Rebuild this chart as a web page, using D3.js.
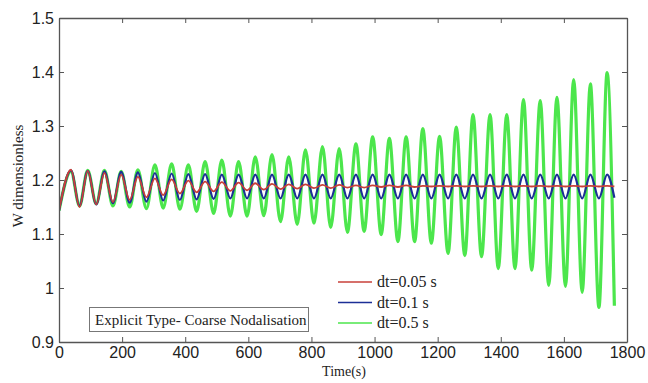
<!DOCTYPE html>
<html>
<head>
<meta charset="utf-8">
<script src="https://cdn.jsdelivr.net/npm/d3@7"></script>
<style>
  body { margin: 0; background: #fff; }
  svg { display: block; }
</style>
</head>
<body>
<div id="chart"></div>
<script>
// times (s) of each oscillation peak / trough
const peakTimes   = [38, 91, 144, 197, 250, 304, 357, 410, 463, 516, 569, 622, 675, 728, 781, 835, 888,
                     941, 994, 1047, 1100, 1153, 1206, 1259, 1312, 1366, 1419, 1472, 1525, 1578, 1631, 1684, 1737];
const troughTimes = [65, 118, 171, 224, 277, 330, 383, 436, 490, 543, 596, 649, 702, 755, 808, 861, 914,
                     967, 1021, 1074, 1127, 1180, 1233, 1286, 1339, 1392, 1445, 1498, 1552, 1605, 1658, 1711];
const startTime = 0, endTime = 1760;

// dt = 0.5 s (green)
const greenPeaks   = [1.216, 1.218, 1.218, 1.216, 1.219, 1.228, 1.230, 1.228, 1.234, 1.237, 1.234, 1.243, 1.247, 1.243,
                      1.256, 1.262, 1.258, 1.267, 1.280, 1.277, 1.280, 1.295, 1.281, 1.298, 1.321, 1.321, 1.321,
                      1.349, 1.347, 1.353, 1.386, 1.378, 1.399];
const greenTroughs = [1.152, 1.156, 1.152, 1.150, 1.147, 1.148, 1.146, 1.142, 1.138, 1.133, 1.133, 1.134, 1.123,
                      1.118, 1.120, 1.112, 1.103, 1.105, 1.099, 1.086, 1.086, 1.083, 1.064, 1.060, 1.058, 1.036,
                      1.036, 1.033, 1.005, 1.003, 0.992, 0.964];
const greenStart = 1.143, greenEnd = 0.967;

// dt = 0.1 s (blue)
const bluePeaks   = [1.218, 1.217, 1.216, 1.215, 1.214, 1.213, 1.212, 1.211, 1.211, 1.210, 1.210, 1.210, 1.210,
                     1.210, 1.210, 1.210, 1.210, 1.210, 1.210, 1.210, 1.210, 1.210, 1.210, 1.210, 1.210, 1.210,
                     1.210, 1.210, 1.210, 1.210, 1.210, 1.210, 1.210];
const blueTroughs = [1.152, 1.155, 1.157, 1.158, 1.160, 1.162, 1.163, 1.164, 1.165, 1.166, 1.166, 1.166, 1.166,
                     1.166, 1.166, 1.166, 1.166, 1.166, 1.166, 1.166, 1.166, 1.166, 1.166, 1.166, 1.166, 1.166,
                     1.166, 1.166, 1.166, 1.166, 1.166, 1.166];
const blueStart = 1.143, blueEnd = 1.167;

// dt = 0.05 s (red)
const redPeaks   = [1.219, 1.217, 1.213, 1.210, 1.206, 1.203, 1.201, 1.199, 1.197, 1.196, 1.195, 1.194, 1.193,
                    1.192, 1.192, 1.191, 1.191, 1.190, 1.190, 1.190, 1.190, 1.189, 1.189, 1.189, 1.189, 1.189,
                    1.189, 1.189, 1.189, 1.189, 1.189, 1.189, 1.189];
const redTroughs = [1.150, 1.155, 1.159, 1.163, 1.168, 1.172, 1.175, 1.177, 1.179, 1.180, 1.181, 1.182, 1.183,
                    1.184, 1.185, 1.185, 1.186, 1.186, 1.187, 1.187, 1.187, 1.188, 1.188, 1.188, 1.188, 1.188,
                    1.188, 1.188, 1.188, 1.188, 1.188, 1.188];
const redStart = 1.143, redEnd = 1.188;

const xTicks = [0, 200, 400, 600, 800, 1000, 1200, 1400, 1600, 1800];
const yTicks = [0.9, 1, 1.1, 1.2, 1.3, 1.4, 1.5];
const legendLabels = ["dt=0.05 s", "dt=0.1 s", "dt=0.5 s"];
const noteText = "Explicit Type- Coarse Nodalisation";

const width = 648, height = 383;
const margin = { top: 18, right: 21, bottom: 41, left: 59 };

// interleave start, peaks, troughs, end into one series
function buildSeries(start, peaks, troughs, end) {
  const pts = [[startTime, start]];
  peaks.forEach((p, i) => {
    pts.push([peakTimes[i], p]);
    if (i < troughs.length) pts.push([troughTimes[i], troughs[i]]);
  });
  pts.push([endTime, end]);
  return pts;
}

const series = [
  { name: "green", color: "#4ce64c", w: 3.2, data: buildSeries(greenStart, greenPeaks, greenTroughs, greenEnd) },
  { name: "blue",  color: "#1c2f96", w: 2.2, data: buildSeries(blueStart, bluePeaks, blueTroughs, blueEnd) },
  { name: "red",   color: "#c8403a", w: 1.8, data: buildSeries(redStart, redPeaks, redTroughs, redEnd) }
];

const svg = d3.select("#chart").append("svg")
  .attr("width", width)
  .attr("height", height);

const x = d3.scaleLinear().domain([0, 1800]).range([margin.left, width - margin.right]);
const y = d3.scaleLinear().domain([0.9, 1.5]).range([height - margin.bottom, margin.top]);

svg.append("defs").append("clipPath").attr("id", "clip")
  .append("rect")
  .attr("x", margin.left).attr("y", margin.top)
  .attr("width", x(1800) - x(0)).attr("height", y(0.9) - y(1.5));

const line = d3.line()
  .x(d => x(d[0]))
  .y(d => y(d[1]))
  .curve(d3.curveMonotoneX);

svg.append("g").attr("clip-path", "url(#clip)")
  .selectAll("path")
  .data(series)
  .enter()
  .append("path")
  .attr("d", d => line(d.data))
  .attr("fill", "none")
  .attr("stroke", d => d.color)
  .attr("stroke-width", d => d.w)
  .attr("stroke-linejoin", "round");

// axes, MATLAB style: box with inward ticks on all sides
const axisColor = "#555";
const tickLen = 5;
const fmt = d => d3.format("~g")(d);

const xBottom = svg.append("g")
  .attr("transform", `translate(0,${y(0.9)})`)
  .call(d3.axisBottom(x).tickValues(xTicks).tickSizeInner(-tickLen).tickSizeOuter(0).tickPadding(5).tickFormat(fmt));
const xTop = svg.append("g")
  .attr("transform", `translate(0,${y(1.5)})`)
  .call(d3.axisTop(x).tickValues(xTicks).tickSizeInner(-tickLen).tickSizeOuter(0).tickFormat(""));
const yLeft = svg.append("g")
  .attr("transform", `translate(${x(0)},0)`)
  .call(d3.axisLeft(y).tickValues(yTicks).tickSizeInner(-tickLen).tickSizeOuter(0).tickPadding(5).tickFormat(fmt));
const yRight = svg.append("g")
  .attr("transform", `translate(${x(1800)},0)`)
  .call(d3.axisRight(y).tickValues(yTicks).tickSizeInner(-tickLen).tickSizeOuter(0).tickFormat(""));

[xBottom, xTop, yLeft, yRight].forEach(g => {
  g.select(".domain").attr("stroke", axisColor).attr("stroke-width", 1.3);
  g.selectAll(".tick line").attr("stroke", axisColor);
  g.selectAll("text")
    .attr("fill", "#222")
    .style("font-family", "'Liberation Sans', Arial, sans-serif")
    .style("font-size", "16px");
});

// axis titles
svg.append("text")
  .attr("x", (x(0) + x(1800)) / 2 + 1)
  .attr("y", 376)
  .attr("text-anchor", "middle")
  .style("font-family", "'Liberation Serif', 'Times New Roman', serif")
  .style("font-size", "14px")
  .attr("fill", "#222")
  .text("Time(s)");

svg.append("text")
  .attr("transform", "translate(23,176) rotate(-90)")
  .attr("text-anchor", "middle")
  .style("font-family", "'Liberation Serif', 'Times New Roman', serif")
  .style("font-size", "15px")
  .attr("fill", "#222")
  .text("W dimensionless");

// legend (no box)
const legendOrder = [series[2], series[1], series[0]];
const legend = svg.append("g");
legendOrder.forEach((s, i) => {
  const ly = 282 + i * 20.5;
  legend.append("line")
    .attr("x1", 338).attr("x2", 372)
    .attr("y1", ly).attr("y2", ly)
    .attr("stroke", s.color)
    .attr("stroke-width", 1.4);
  legend.append("text")
    .attr("x", 377).attr("y", ly + 5)
    .style("font-family", "'Liberation Serif', 'Times New Roman', serif")
    .style("font-size", "16px")
    .attr("fill", "#222")
    .text(legendLabels[i]);
});

// annotation box
svg.append("rect")
  .attr("x", 89.5).attr("y", 307.5)
  .attr("width", 219).attr("height", 24)
  .attr("fill", "#fff")
  .attr("stroke", "#777");
svg.append("text")
  .attr("x", 95).attr("y", 324.5)
  .style("font-family", "'Liberation Serif', 'Times New Roman', serif")
  .style("font-size", "15px")
  .attr("fill", "#222")
  .text(noteText);
</script>
</body>
</html>
